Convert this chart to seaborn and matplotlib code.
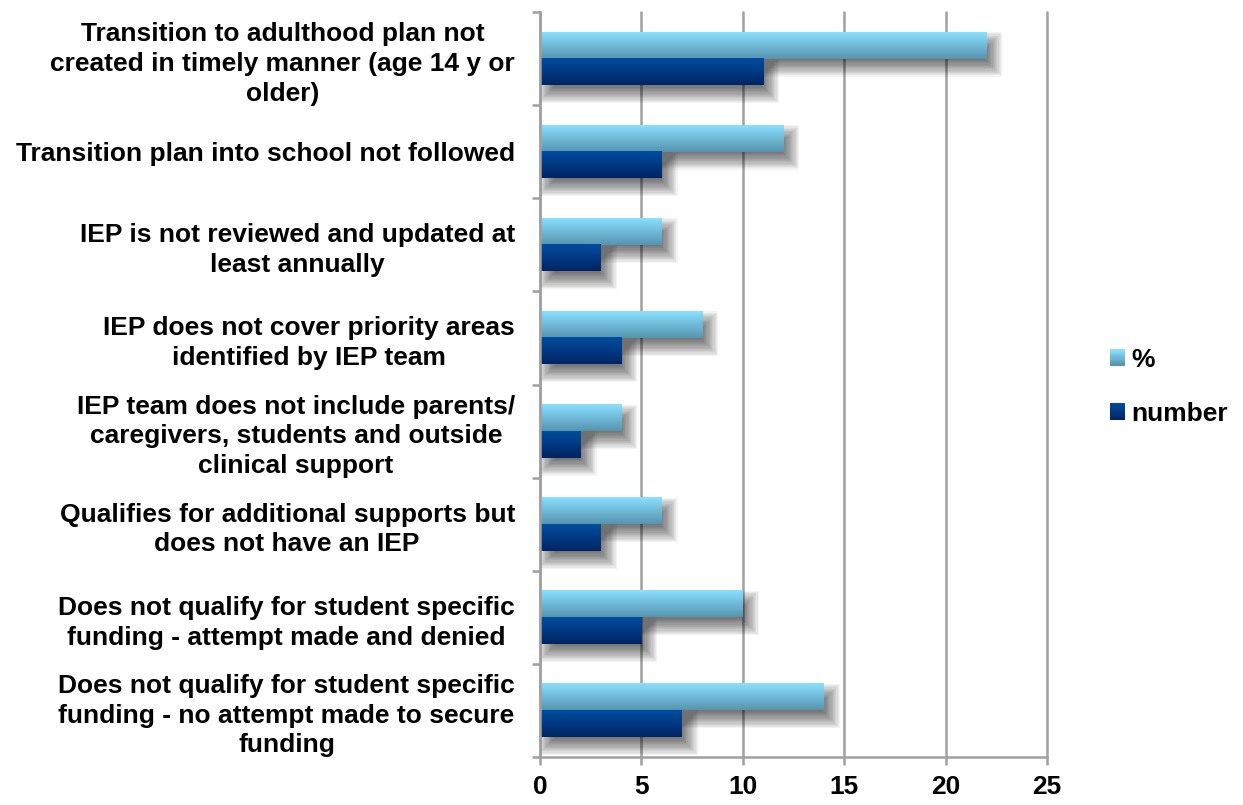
import numpy as np
import pandas as pd
import matplotlib
matplotlib.use("Agg")
import matplotlib.pyplot as plt
import seaborn as sns
from matplotlib.patches import Rectangle
from matplotlib.colors import to_rgb
from matplotlib.legend_handler import HandlerBase

# ---- data ----
categories = [
    "Transition to adulthood plan not\ncreated in timely manner (age 14 y or\nolder)",
    "Transition plan into school not followed",
    "IEP is not reviewed and updated at\nleast annually",
    "IEP does not cover priority areas\nidentified by IEP team",
    "IEP team does not include parents/\ncaregivers, students and outside\nclinical support",
    "Qualifies for additional supports but\ndoes not have an IEP",
    "Does not qualify for student specific\nfunding - attempt made and denied",
    "Does not qualify for student specific\nfunding - no attempt made to secure\nfunding",
]
pct_values = [22, 12, 6, 8, 4, 6, 10, 14]
number_values = [11, 6, 3, 4, 2, 3, 5, 7]
series = ["%", "number"]
x_ticks = [0, 5, 10, 15, 20, 25]

# ---- styling ----
sns.set_theme(style="white")
plt.rcParams["font.family"] = ["Liberation Sans", "DejaVu Sans"]
plt.rcParams["font.weight"] = "bold"
plt.rcParams["text.color"] = "black"
FS = 19

gradients = {
    "%": ("#8ADFFF", "#5695B0"),
    "number": ("#004DA0", "#002564"),
}
mid_colors = {k: tuple((np.array(to_rgb(a)) + np.array(to_rgb(b))) / 2)
              for k, (a, b) in gradients.items()}
GRID = "#A0A0A0"

df = pd.DataFrame({
    "category": categories * 2,
    "series": [series[0]] * len(categories) + [series[1]] * len(categories),
    "value": pct_values + number_values,
})

W, H, DPI = 1243, 805, 100
fig = plt.figure(figsize=(W / DPI, H / DPI), dpi=DPI)
ax_left, ax_bottom, ax_w, ax_h = 540 / W, 48 / H, 507 / W, 745 / H
ax = fig.add_axes([ax_left, ax_bottom, ax_w, ax_h])

sns.barplot(data=df, y="category", x="value", hue="series", hue_order=series,
            order=categories, orient="h", palette=mid_colors, width=0.57,
            saturation=1, linewidth=0, legend=False, ax=ax)

xlim = (0, 25)
ylim = (len(categories) - 0.5, -0.5)
ax.set_xlim(*xlim)
ax.set_ylim(*ylim)

# data units per pixel
sx = (xlim[1] - xlim[0]) / (ax_w * W)
sy = abs(ylim[0] - ylim[1]) / (ax_h * H)

# soft drop shadows + vertical gradient fill for each bar
n_layers, radius, off_x, off_y = 16, 9.0, 7.0, 9.0
for container, name in zip(ax.containers, series):
    top_c, bot_c = (np.array(to_rgb(c)) for c in gradients[name])
    img = np.linspace(top_c, bot_c, 64)[:, None, :]
    for bar in container:
        x, y, w, h = bar.get_x(), bar.get_y(), bar.get_width(), bar.get_height()
        for i in range(n_layers):
            e = radius * (1 - 2 * i / (n_layers - 1))
            ax.add_patch(Rectangle(
                (x + off_x * sx - e * sx, y + off_y * sy - e * sy),
                w + 2 * e * sx, h + 2 * e * sy,
                facecolor="black", alpha=0.048, linewidth=0, zorder=1.5))
        ax.imshow(img, extent=(x, x + w, y + h, y), origin="upper",
                  aspect="auto", interpolation="bilinear", zorder=2.5)

ax.set_xlim(*xlim)
ax.set_ylim(*ylim)

# ---- axes decoration ----
ax.set_xlabel("")
ax.set_ylabel("")
ax.set_axisbelow(True)
ax.grid(axis="x", color=GRID, linewidth=1.8)
ax.grid(axis="y", visible=False)
for side in ("top", "right"):
    ax.spines[side].set_visible(False)
for side in ("left", "bottom"):
    ax.spines[side].set_color(GRID)
    ax.spines[side].set_linewidth(1.8)

ax.set_xticks(x_ticks)
ax.set_xticklabels([str(t) for t in x_ticks], fontsize=FS, fontweight="bold",
                   color="black")
ax.tick_params(axis="x", length=6, width=1.8, color=GRID, pad=7,
               direction="out", bottom=True)
for gl in ax.get_xgridlines():
    gl.set_clip_on(False)

ax.set_yticks(range(len(categories)))
ax.set_yticklabels(categories, fontsize=FS, fontweight="bold", color="black",
                   ha="right", multialignment="center", linespacing=1.3)
ax.tick_params(axis="y", which="major", length=0, pad=18)
ax.set_yticks(np.arange(-0.5, len(categories), 1), minor=True)
ax.tick_params(axis="y", which="minor", length=6, width=1.8, color=GRID,
               direction="out", left=True)


# ---- legend with gradient swatches ----
class GradientSwatch(HandlerBase):
    def __init__(self, top, bottom, steps=14):
        super().__init__()
        self.top = np.array(to_rgb(top))
        self.bottom = np.array(to_rgb(bottom))
        self.steps = steps

    def create_artists(self, legend, orig_handle, xdescent, ydescent,
                       width, height, fontsize, trans):
        arts = []
        for i in range(self.steps):
            t = i / (self.steps - 1)
            c = self.top * (1 - t) + self.bottom * t
            y0 = -ydescent + height - (i + 1) * height / self.steps
            arts.append(Rectangle((-xdescent, y0), width,
                                  height / self.steps + 0.3,
                                  facecolor=c, linewidth=0, transform=trans))
        return arts


handles = [Rectangle((0, 0), 1, 1) for _ in series]
handler_map = {h: GradientSwatch(*gradients[s]) for h, s in zip(handles, series)}
fig.legend(handles, series, handler_map=handler_map, loc="center left",
           bbox_to_anchor=(1110 / W, 1 - 387 / H), frameon=False,
           prop={"size": FS, "weight": "bold"}, handlelength=0.57,
           handleheight=0.57, handletextpad=0.25, labelspacing=1.12,
           borderpad=0, borderaxespad=0)

fig.savefig("out.png", dpi=DPI)
